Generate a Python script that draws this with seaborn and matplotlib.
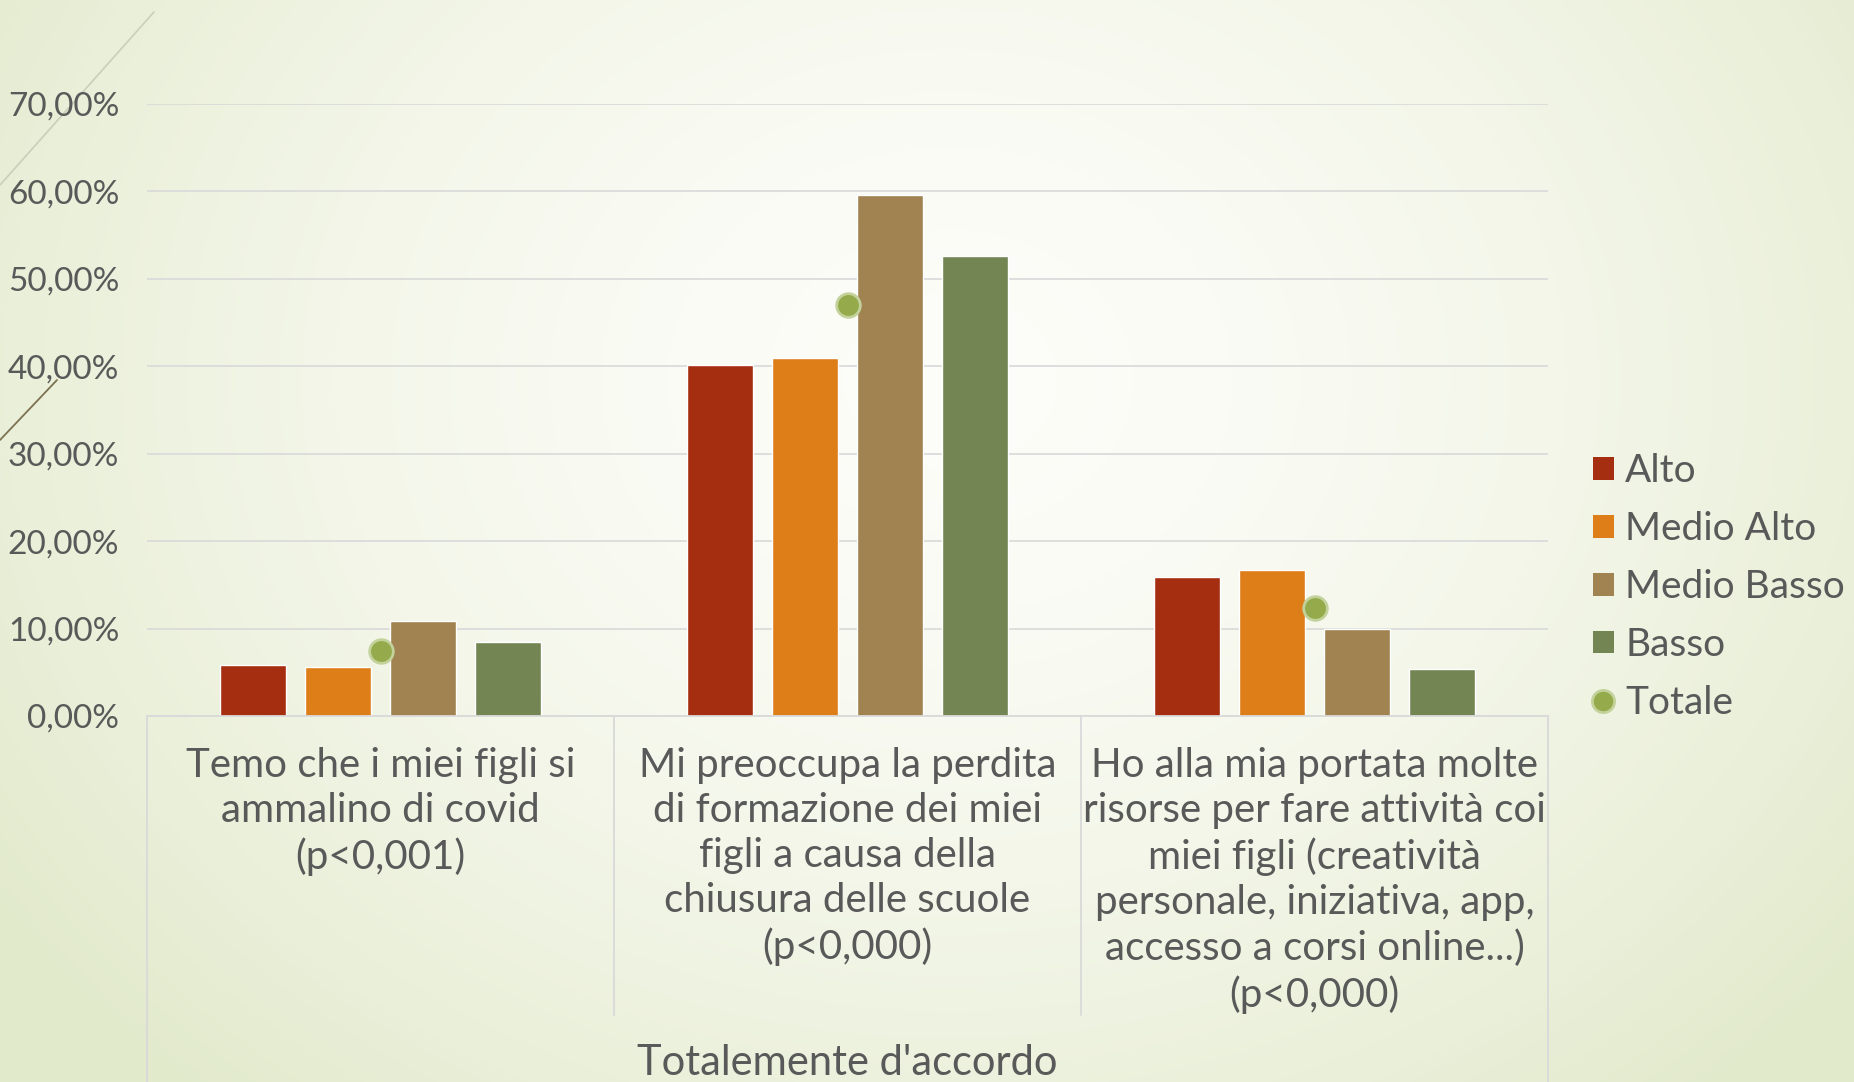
import numpy as np
import pandas as pd
import matplotlib
matplotlib.use("Agg")
import matplotlib.pyplot as plt
import seaborn as sns
from matplotlib.patches import Patch
from matplotlib.lines import Line2D
from matplotlib.ticker import FuncFormatter, MultipleLocator

# data (percent)
categories = [
    "Temo che i miei figli si\nammalino di covid\n(p<0,001)",
    "Mi preoccupa la perdita\ndi formazione dei miei\nfigli a causa della\nchiusura delle scuole\n(p<0,000)",
    "Ho alla mia portata molte\nrisorse per fare attività coi\nmiei figli (creatività\npersonale, iniziativa, app,\naccesso a corsi online...)\n(p<0,000)",
]
groups = ["Alto", "Medio Alto", "Medio Basso", "Basso"]
alto = [5.8, 40.1, 15.9]
medio_alto = [5.6, 40.9, 16.7]
medio_basso = [10.9, 59.6, 9.9]
basso = [8.5, 52.6, 5.4]
totale = [7.4, 47.0, 12.4]
outer_label = "Totalemente d'accordo"

colors = ["#a52e10", "#dd7e19", "#a08350", "#738552"]
tot_color = "#94aa4b"
text_color = "#595959"
grid_color = "#d9d9d9"

rows = []
for g, vals in zip(groups, [alto, medio_alto, medio_basso, basso]):
    for c, v in zip(categories, vals):
        rows.append({"cat": c, "group": g, "val": v})
df = pd.DataFrame(rows)
df_tot = pd.DataFrame({"cat": categories, "val": totale})

sns.set_theme(style="white")
plt.rcParams["font.family"] = ["Lato", "DejaVu Sans"]

W, H = 1854, 1082
fig = plt.figure(figsize=(W / 100, H / 100), dpi=100)

# background gradient + decorative lines
bg = fig.add_axes([0, 0, 1, 1], zorder=-1)
yy, xx = np.mgrid[0:H, 0:W]
d = np.sqrt(((xx - 950) / 1150.0) ** 2 + ((yy - 380) / 950.0) ** 2)
d = np.clip(d, 0, 1) ** 1.6
c0 = np.array([253, 253, 249]) / 255.0
c1 = np.array([226, 234, 204]) / 255.0
img = c0[None, None, :] * (1 - d[..., None]) + c1[None, None, :] * d[..., None]
bg.imshow(img, extent=[0, W, H, 0], aspect="auto")
bg.plot([0, 154], [185, 12], color="#c9cfb8", lw=1.2)
bg.plot([0, 57], [440, 380], color="#7d7152", lw=1.3)
bg.set_xlim(0, W)
bg.set_ylim(H, 0)
bg.axis("off")

ax = fig.add_axes([147 / W, 1 - 716 / H, (1548 - 147) / W, 612 / H])
ax.set_facecolor("none")

sns.barplot(data=df, x="cat", y="val", hue="group", hue_order=groups, order=categories,
            palette=colors, saturation=1, width=0.728, gap=0.215, legend=False, ax=ax, zorder=2)
sns.stripplot(data=df_tot, x="cat", y="val", order=categories, jitter=False, s=17,
              color=tot_color, edgecolor="#c3d19a", linewidth=2, ax=ax, zorder=3)

ax.set_ylim(0, 70)
ax.set_xlim(-0.5, 2.5)
ax.yaxis.set_major_locator(MultipleLocator(10))
ax.yaxis.set_major_formatter(FuncFormatter(lambda v, p: f"{v:.2f}%".replace(".", ",")))
ax.grid(axis="y", color=grid_color, lw=1.2, zorder=0)
ax.set_axisbelow(True)
for s in ["top", "right", "left"]:
    ax.spines[s].set_visible(False)
ax.spines["bottom"].set_color(grid_color)
ax.spines["bottom"].set_linewidth(1.3)
ax.tick_params(axis="y", length=0, pad=20, labelsize=24, labelcolor=text_color)
ax.tick_params(axis="x", length=0, pad=22, labelsize=29, labelcolor=text_color)
ax.set_xlabel("")
ax.set_ylabel("")
for lab in ax.get_xticklabels():
    lab.set_linespacing(1.27)
    lab.set_multialignment("center")

# category separators below the axis
for xb, ylow in [(-0.5, -0.6), (0.5, -0.489), (1.5, -0.489), (2.5, -0.6)]:
    ax.plot([xb, xb], [0, ylow], color=grid_color, lw=1.3, clip_on=False,
            transform=ax.get_xaxis_transform())

fig.text(847.5 / W, 1 - 1063 / H, outer_label, ha="center", va="center",
         fontsize=30, color=text_color)

handles = [Patch(facecolor=c, edgecolor="none", label=g) for g, c in zip(groups, colors)]
handles.append(Line2D([], [], marker="o", ls="none", markersize=16, markerfacecolor=tot_color,
                      markeredgecolor="#c3d19a", markeredgewidth=2, label="Totale"))
leg = fig.legend(handles=handles, loc="center left", bbox_to_anchor=(1593 / W, 1 - 587 / H),
                 frameon=False, fontsize=28, handlelength=0.53, handleheight=0.53,
                 handletextpad=0.3, labelspacing=0.56, borderpad=0, borderaxespad=0)
for t in leg.get_texts():
    t.set_color(text_color)

fig.savefig("out.png", dpi=100)
